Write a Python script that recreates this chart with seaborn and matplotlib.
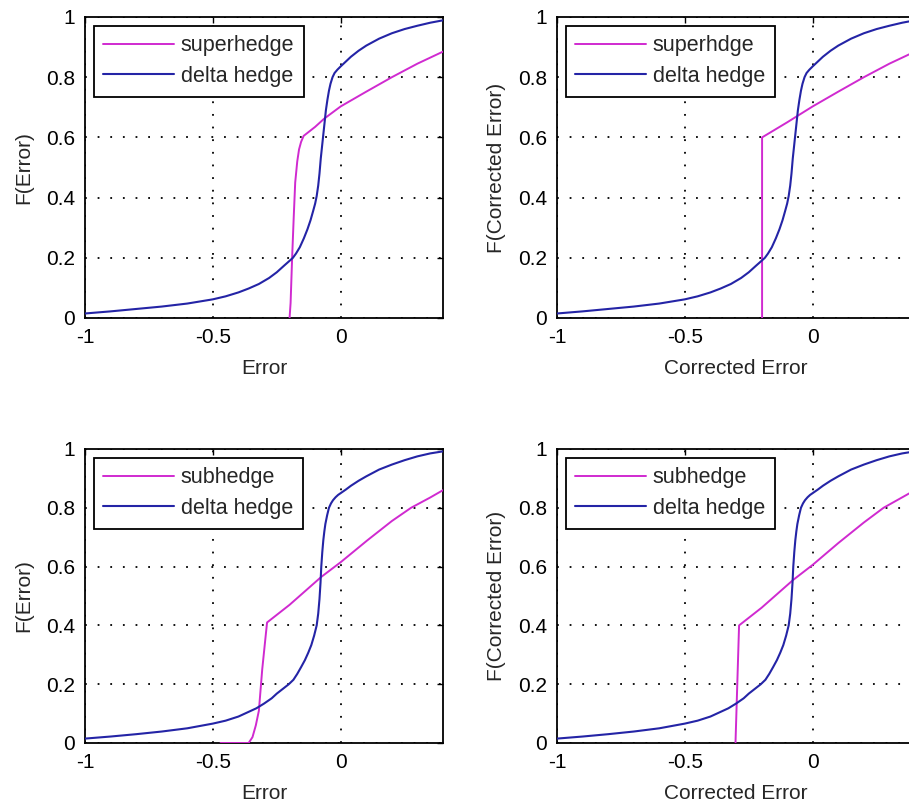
import numpy as np
import pandas as pd
import matplotlib
matplotlib.use("Agg")
import matplotlib.pyplot as plt
import seaborn as sns

# ---------------- data ----------------
# delta hedge CDF (top row)
dh_top_x = [-1.0, -0.9, -0.8, -0.7, -0.6, -0.5, -0.45, -0.4, -0.36, -0.32, -0.28, -0.25,
            -0.22, -0.2, -0.187, -0.175, -0.16, -0.144, -0.13, -0.118, -0.108, -0.1,
            -0.094, -0.088, -0.083, -0.078, -0.073, -0.068, -0.063, -0.058, -0.052,
            -0.046, -0.04, -0.032, -0.024, -0.013, 0.0, 0.02, 0.04, 0.07, 0.1, 0.15,
            0.2, 0.25, 0.3, 0.35, 0.4]
dh_top_y = [0.015, 0.022, 0.03, 0.038, 0.048, 0.062, 0.072, 0.085, 0.098, 0.113, 0.133, 0.152,
            0.175, 0.19, 0.2, 0.214, 0.235, 0.265, 0.295, 0.325, 0.355, 0.38,
            0.405, 0.44, 0.48, 0.53, 0.57, 0.61, 0.65, 0.69, 0.725,
            0.755, 0.778, 0.8, 0.814, 0.825, 0.836, 0.852, 0.868, 0.888, 0.905, 0.928,
            0.946, 0.96, 0.971, 0.981, 0.989]

# delta hedge CDF (bottom row)
dh_bot_x = [-1.0, -0.9, -0.8, -0.7, -0.6, -0.5, -0.45, -0.4, -0.36, -0.33, -0.3, -0.27,
            -0.25, -0.225, -0.203, -0.185, -0.17, -0.155, -0.14, -0.127, -0.115, -0.104,
            -0.094, -0.088, -0.083, -0.079, -0.076, -0.072, -0.068, -0.064, -0.06,
            -0.053, -0.046, -0.038, -0.03, -0.02, -0.01, 0.0, 0.02, 0.04, 0.07, 0.1,
            0.15, 0.2, 0.25, 0.3, 0.35, 0.4]
dh_bot_y = [0.015, 0.022, 0.03, 0.039, 0.05, 0.066, 0.076, 0.09, 0.106, 0.118, 0.134, 0.152,
            0.168, 0.185, 0.2, 0.215, 0.235, 0.258, 0.282, 0.307, 0.333, 0.365,
            0.4, 0.44, 0.49, 0.545, 0.6, 0.65, 0.69, 0.72, 0.745,
            0.775, 0.8, 0.815, 0.826, 0.836, 0.844, 0.85, 0.862, 0.875, 0.892, 0.907,
            0.93, 0.947, 0.962, 0.975, 0.985, 0.992]

# superhedge (top-left)
sh_x = [-0.2, -0.196, -0.19, -0.184, -0.178, -0.17, -0.163, -0.155, -0.145, -0.13,
        -0.1, -0.065, 0.0, 0.1, 0.2, 0.3, 0.4]
sh_y = [0.0, 0.05, 0.2, 0.33, 0.45, 0.52, 0.56, 0.585, 0.605, 0.615,
        0.635, 0.662, 0.703, 0.752, 0.80, 0.845, 0.885]

# superhedge, corrected (top-right)
shc_x = [-0.198, -0.198, -0.1, 0.0, 0.1, 0.2, 0.3, 0.4]
shc_y = [0.0, 0.6, 0.65, 0.703, 0.752, 0.80, 0.845, 0.885]

# subhedge (bottom-left)
sb_x = [-0.47, -0.36, -0.345, -0.332, -0.32, -0.307, -0.294, -0.288, -0.2, -0.076,
        0.0, 0.105, 0.2, 0.275, 0.35, 0.4]
sb_y = [0.0, 0.0, 0.02, 0.06, 0.11, 0.25, 0.36, 0.41, 0.47, 0.565,
        0.615, 0.69, 0.755, 0.80, 0.835, 0.86]

# subhedge, corrected (bottom-right)
sbc_x = [-0.302, -0.288, -0.2, -0.076, 0.0, 0.1, 0.2, 0.277, 0.4]
sbc_y = [0.0, 0.40, 0.46, 0.555, 0.606, 0.68, 0.75, 0.80, 0.86]

x_ticks = [-1, -0.5, 0]
x_tick_labels = ["-1", "-0.5", "0"]
y_ticks = [0, 0.2, 0.4, 0.6, 0.8, 1]
y_tick_labels = ["0", "0.2", "0.4", "0.6", "0.8", "1"]

panels = [
    dict(pos=[85, 17, 358, 301], other=(sh_x, sh_y), oname="superhedge",
         dh=(dh_top_x, dh_top_y), xlabel="Error", ylabel="F(Error)"),
    dict(pos=[557, 17, 358, 301], other=(shc_x, shc_y), oname="superhdge",
         dh=(dh_top_x, dh_top_y), xlabel="Corrected Error", ylabel="F(Corrected Error)"),
    dict(pos=[85, 449, 358, 294], other=(sb_x, sb_y), oname="subhedge",
         dh=(dh_bot_x, dh_bot_y), xlabel="Error", ylabel="F(Error)"),
    dict(pos=[557, 449, 358, 294], other=(sbc_x, sbc_y), oname="subhedge",
         dh=(dh_bot_x, dh_bot_y), xlabel="Corrected Error", ylabel="F(Corrected Error)"),
]

MAGENTA = "#d02ad0"
BLUE = "#2424a6"

sns.set_style("white")
plt.rcParams["font.family"] = ["Liberation Sans", "DejaVu Sans"]
plt.rcParams["font.size"] = 15

W, H = 909, 807
fig = plt.figure(figsize=(W / 100, H / 100), dpi=100)
fig.patch.set_facecolor("white")

for p in panels:
    l, t, w, h = p["pos"]
    ax = fig.add_axes([l / W, 1 - (t + h) / H, w / W, h / H])
    ox, oy = p["other"]
    dx, dy = p["dh"]
    df_o = pd.DataFrame({"x": ox, "y": oy})
    df_d = pd.DataFrame({"x": dx, "y": dy})
    sns.lineplot(data=df_o, x="x", y="y", ax=ax, color=MAGENTA, lw=1.4,
                 sort=False, estimator=None, label=p["oname"], zorder=3)
    sns.lineplot(data=df_d, x="x", y="y", ax=ax, color=BLUE, lw=1.5,
                 sort=False, estimator=None, label="delta hedge", zorder=3)
    ax.set_xlim(-1, 0.4)
    ax.set_ylim(0, 1)
    ax.set_xticks(x_ticks)
    ax.set_xticklabels(x_tick_labels)
    ax.set_yticks(y_ticks)
    ax.set_yticklabels(y_tick_labels)
    ax.grid(True, color="black", linestyle=(0, (1, 6)), linewidth=1.3)
    ax.set_axisbelow(True)
    for s in ax.spines.values():
        s.set_visible(True)
        s.set_color("black")
        s.set_linewidth(1.3)
    ax.tick_params(direction="in", length=4, width=1, top=True, right=True,
                   labelsize=15, pad=7, colors="black")
    ax.set_xlabel(p["xlabel"], fontsize=15, labelpad=9)
    ax.set_ylabel(p["ylabel"], fontsize=15, labelpad=9)
    leg = ax.legend(loc="upper left", frameon=True, fancybox=False,
                    edgecolor="black", framealpha=1, handlelength=3.3,
                    handletextpad=0.3, borderaxespad=0.4, borderpad=0.45,
                    labelspacing=0.45, fontsize=15.5)
    leg.get_frame().set_linewidth(1.3)
    leg.set_zorder(5)

fig.savefig("out.png", dpi=100)
